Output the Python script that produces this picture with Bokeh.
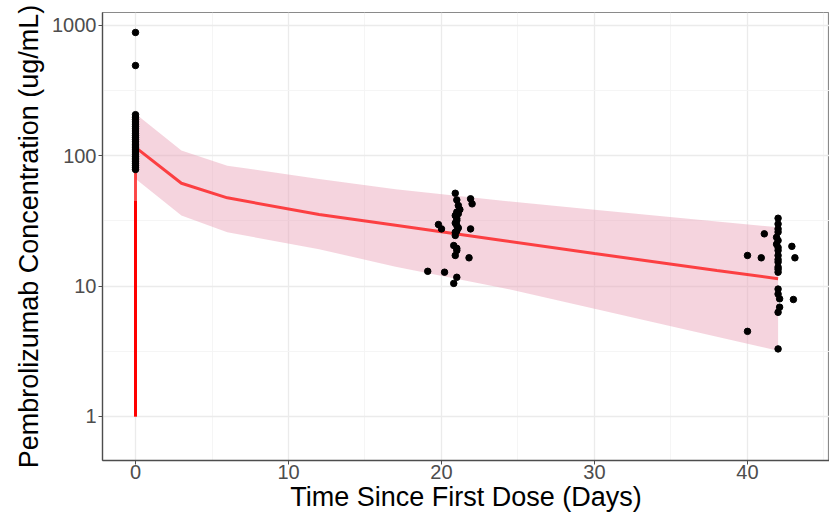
from bokeh.plotting import figure
from bokeh.models import Range1d, FixedTicker, CustomJSTickFormatter
from bokeh.embed import file_html
from bokeh.resources import INLINE

# ---------------- data ----------------
pred_time = [0, 3, 6, 12, 17, 24, 30, 38, 42]
pred_median = [116, 61.6, 47.6, 35.5, 29.3, 22.4, 17.8, 13.2, 11.4]
pred_upper = [210, 110, 84, 66.5, 55.5, 45.2, 38.6, 31.4, 28.3]
pred_lower = [66.7, 34.8, 25.9, 19.2, 14.1, 9.7, 6.7, 4.1, 3.2]

line_time = [0] + pred_time
line_conc = [1] + pred_median

dose_time = [0, 0]
dose_conc = [1, 45]

day0_conc = [884, 493, 207, 198, 190, 182, 175, 168, 161, 155, 149, 143, 138, 133,
             128, 123, 119, 115, 111, 107, 103, 99, 96, 93, 90, 87, 84, 81, 78.5]
day0_time = [0] * len(day0_conc)

day21_time = [20.9, 21.0, 21.9, 22.0, 21.1, 21.2, 20.9, 21.0, 19.8, 20.0, 21.0, 20.9,
              21.9, 20.8, 21.0, 20.9, 21.8, 19.1, 20.2, 21.0, 20.8,
              21.0, 21.1, 21.0, 20.9, 21.1, 21.0, 20.9, 21.0]
day21_conc = [51.6, 45.9, 46.8, 42.8, 41.6, 38.7, 34.8, 31.9, 29.7, 27.5, 29.2, 25.9,
              27.5, 20.5, 18.8, 17.2, 16.5, 13.0, 12.8, 11.7, 10.5,
              37, 36, 33, 30.5, 28, 26.5, 24.5, 19.5]

day42_time = [42.0, 42.0, 41.1, 41.9, 42.0, 42.9, 40.0, 40.9, 43.1, 42.0, 42.0, 42.0,
              42.0, 42.0, 42.0, 42.0, 42.1, 43.0, 42.1, 42.0, 40.0, 42.0,
              42.0, 42.0, 41.9, 42.0, 42.0, 42.0]
day42_conc = [33.2, 27.5, 25.2, 23.7, 22.4, 20.2, 17.2, 16.5, 16.5, 18.8, 17.2, 15.3,
              14.0, 12.8, 9.5, 8.7, 8.0, 7.9, 6.9, 6.3, 4.5, 3.3,
              30, 26, 21, 19.8, 16, 13.5]

obs_time = day0_time + day21_time + day42_time
obs_conc = day0_conc + day21_conc + day42_conc

x_major = [0, 10, 20, 30, 40]
x_minor = [5, 15, 25, 35, 45]
y_major = [1, 10, 100, 1000]
y_minor = [10 ** 0.5, 10 ** 1.5, 10 ** 2.5]

# ---------------- figure ----------------
p = figure(width=829, height=517, y_axis_type="log",
           x_range=Range1d(-2.157, 45.36), y_range=Range1d(0.4596, 1258),
           output_backend="svg", toolbar_location=None,
           min_border_left=102, min_border_right=0, min_border_top=12, min_border_bottom=57)

p.background_fill_color = "white"
p.border_fill_color = "white"
p.outline_line_color = "#8A8A8A"
p.outline_line_width = 1.2

p.xaxis.ticker = FixedTicker(ticks=x_major)
p.yaxis.ticker = FixedTicker(ticks=y_major)
p.xgrid.ticker = FixedTicker(ticks=x_major, minor_ticks=x_minor)
p.ygrid.ticker = FixedTicker(ticks=y_major, minor_ticks=y_minor)
for g in (p.xgrid, p.ygrid):
    g.grid_line_color = "#EBEBEB"
    g.grid_line_width = 1.3
    g.minor_grid_line_color = "#F4F4F4"
    g.minor_grid_line_width = 0.9

for ax in (p.xaxis, p.yaxis):
    ax.axis_line_color = "#4D4D4D"
    ax.axis_line_width = 1.3
    ax.major_tick_line_color = "#4D4D4D"
    ax.major_tick_out = 4
    ax.major_tick_in = 0
    ax.minor_tick_line_color = None
    ax.major_label_text_font = "Liberation Sans"
    ax.major_label_text_font_size = "20px"
    ax.major_label_text_color = "#4D4D4D"
    ax.axis_label_text_font = "Liberation Sans"
    ax.axis_label_text_font_size = "27px"
    ax.axis_label_text_font_style = "normal"
    ax.axis_label_text_color = "black"

p.yaxis.formatter = CustomJSTickFormatter(code="return String(Math.round(tick));")

p.xaxis.axis_label = "Time Since First Dose (Days)"
p.yaxis.axis_label = "Pembrolizumab Concentration (ug/mL)"
p.xaxis.major_label_standoff = 0
p.yaxis.major_label_standoff = 2
p.xaxis.axis_label_standoff = 0
p.yaxis.axis_label_standoff = 5

# prediction interval ribbon
p.varea(x=pred_time, y1=pred_lower, y2=pred_upper, fill_color="#E8A0B5", fill_alpha=0.45)

# median prediction line
p.line(line_time, line_conc, line_color="red", line_alpha=0.7, line_width=3)
p.line(dose_time, dose_conc, line_color="red", line_width=3)

# observations
p.scatter(obs_time, obs_conc, size=6.5, fill_color="black", line_color="black")

open("out.html", "w").write(file_html(p, INLINE))
